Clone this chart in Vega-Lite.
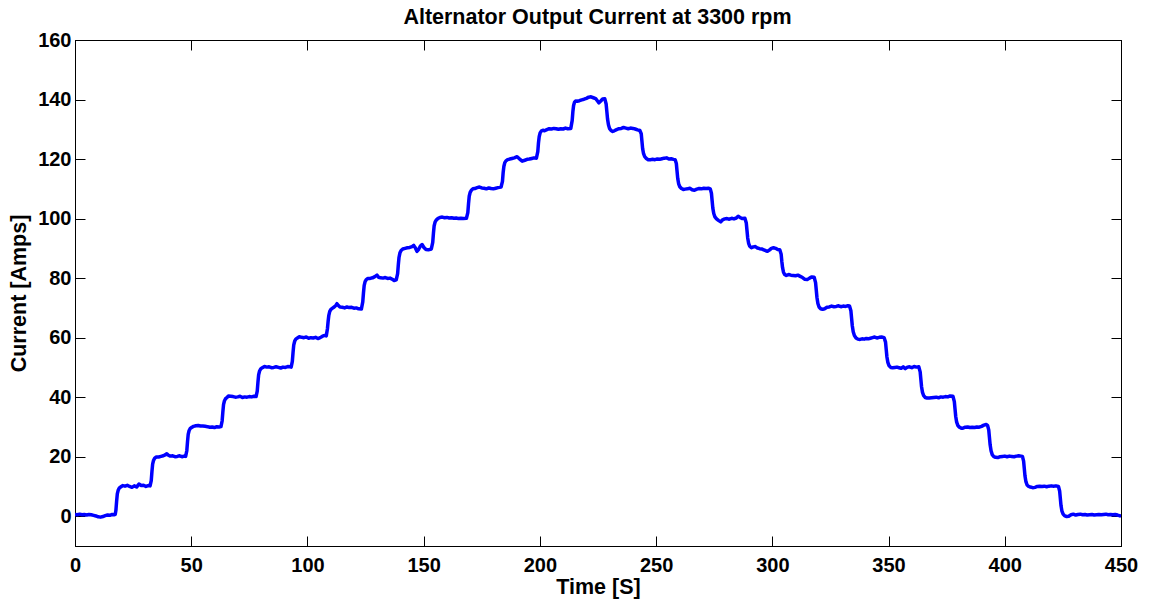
{
"$schema": "https://vega.github.io/schema/vega-lite/v6.json",
"autosize": {"type": "none"},
"width": 1046,
"height": 506,
"padding": {"left": 75, "top": 40, "right": 31, "bottom": 54},
"background": "white",
"config": {"view": {"stroke": "black", "strokeWidth": 1}, "font": "Liberation Sans"},
"data": {"values": [
{"t":0,"i":0.6},{"t":1,"i":0.5},{"t":2,"i":0.7},{"t":3,"i":0.5},{"t":4,"i":0.6},{"t":5,"i":0.4},{"t":6,"i":0.6},{"t":7,"i":0.5},{"t":8,"i":0.3},{"t":9,"i":0.1},{"t":10,"i":-0.2},{"t":11,"i":-0.3},{"t":12,"i":-0.1},{"t":13,"i":0.2},{"t":14,"i":0.4},{"t":15,"i":0.3},{"t":16,"i":0.6},{"t":17,"i":0.5},{"t":17.3,"i":0.6},
{"t":17.6,"i":2.0},{"t":17.9,"i":5.0},{"t":18.2,"i":7.5},{"t":18.6,"i":8.8},{"t":19.1,"i":9.5},{"t":19.8,"i":9.9},
{"t":20.5,"i":10.3},{"t":21.5,"i":10.1},{"t":22.5,"i":10.4},{"t":23.5,"i":10.0},{"t":24.5,"i":9.7},{"t":25.5,"i":10.2},{"t":26.5,"i":9.8},{"t":27.5,"i":10.8},{"t":28.5,"i":10.3},{"t":29.5,"i":10.4},{"t":30.5,"i":10.0},{"t":31.5,"i":10.3},{"t":32.3,"i":10.2},
{"t":32.8,"i":12},{"t":33.1,"i":15},{"t":33.4,"i":17.5},{"t":33.8,"i":18.8},{"t":34.3,"i":19.5},{"t":35,"i":19.9},
{"t":36,"i":19.9},{"t":37,"i":20.1},{"t":38,"i":20.3},{"t":39,"i":20.7},{"t":39.5,"i":21.0},{"t":40.2,"i":20.5},{"t":41,"i":20.2},{"t":42,"i":20.3},{"t":43,"i":20.0},{"t":44,"i":20.1},{"t":45,"i":20.3},{"t":46,"i":20.0},{"t":47,"i":20.2},{"t":47.6,"i":20.1},
{"t":48.1,"i":22},{"t":48.4,"i":25},{"t":48.7,"i":27.5},{"t":49.1,"i":28.8},{"t":49.6,"i":29.5},{"t":50.3,"i":29.9},
{"t":51,"i":30.2},{"t":52,"i":30.4},{"t":53,"i":30.5},{"t":54,"i":30.3},{"t":55,"i":30.3},{"t":56,"i":30.2},{"t":57,"i":30.1},{"t":58,"i":29.9},{"t":59,"i":30.0},{"t":60,"i":29.8},{"t":61,"i":30.1},{"t":62,"i":30.0},{"t":62.8,"i":30.1},
{"t":63.3,"i":32},{"t":63.6,"i":35},{"t":63.9,"i":37.5},{"t":64.3,"i":38.8},{"t":64.8,"i":39.5},{"t":65.5,"i":40},
{"t":66,"i":40.4},{"t":67,"i":40.3},{"t":68,"i":40.2},{"t":69,"i":40.0},{"t":70,"i":40.1},{"t":71,"i":40.3},{"t":72,"i":39.9},{"t":73,"i":40.1},{"t":74,"i":40.0},{"t":75,"i":40.2},{"t":76,"i":40.1},{"t":77,"i":40.3},{"t":77.9,"i":40.2},
{"t":78.4,"i":42},{"t":78.7,"i":45},{"t":79,"i":47.5},{"t":79.4,"i":48.8},{"t":79.9,"i":49.5},{"t":80.6,"i":49.9},
{"t":81.5,"i":50.3},{"t":82.5,"i":50.1},{"t":83.5,"i":50.2},{"t":84.5,"i":49.9},{"t":85.5,"i":50.0},{"t":86.5,"i":50.2},{"t":87.5,"i":50.0},{"t":88.5,"i":49.8},{"t":89.5,"i":50.1},{"t":90.5,"i":50.0},{"t":91.5,"i":50.3},{"t":92.5,"i":50.2},{"t":93,"i":50.1},
{"t":93.5,"i":52},{"t":93.8,"i":55},{"t":94.1,"i":57.5},{"t":94.5,"i":58.8},{"t":95,"i":59.5},{"t":95.7,"i":59.9},
{"t":96.5,"i":60.3},{"t":97.5,"i":60.1},{"t":98.5,"i":60.0},{"t":99.5,"i":60.2},{"t":100.5,"i":59.8},{"t":101.5,"i":60.0},{"t":102.5,"i":59.9},{"t":103.5,"i":60.1},{"t":104.5,"i":59.7},{"t":105.5,"i":60.0},{"t":106.5,"i":60.5},{"t":107.5,"i":60.8},{"t":108.1,"i":60.6},
{"t":108.6,"i":63},{"t":108.9,"i":65.5},{"t":109.2,"i":67.5},{"t":109.6,"i":68.8},{"t":110.1,"i":69.5},{"t":110.8,"i":69.9},
{"t":111.5,"i":70.3},{"t":112.2,"i":70.8},{"t":112.7,"i":71.4},{"t":113.3,"i":70.8},{"t":114,"i":70.3},{"t":115,"i":70.2},{"t":116,"i":70.0},{"t":117,"i":70.3},{"t":118,"i":70.1},{"t":119,"i":70.2},{"t":120,"i":69.9},{"t":121,"i":70.0},{"t":122,"i":69.7},{"t":123.2,"i":69.6},
{"t":123.8,"i":72},{"t":124.1,"i":75},{"t":124.4,"i":77.5},{"t":124.8,"i":78.8},{"t":125.3,"i":79.5},{"t":126,"i":79.9},
{"t":127,"i":79.9},{"t":128,"i":80.1},{"t":129,"i":80.5},{"t":129.9,"i":81.0},{"t":130.6,"i":80.3},{"t":131.5,"i":80.1},{"t":132.5,"i":80.0},{"t":133.5,"i":80.2},{"t":134.5,"i":79.9},{"t":135.5,"i":80.0},{"t":136.5,"i":79.6},{"t":137.3,"i":79.2},{"t":138.2,"i":79.4},
{"t":138.8,"i":81.5},{"t":139.1,"i":84.5},{"t":139.4,"i":87},{"t":139.8,"i":88.5},{"t":140.3,"i":89.3},{"t":141,"i":89.8},
{"t":142,"i":90.0},{"t":143,"i":90.2},{"t":144,"i":90.3},{"t":145,"i":90.6},{"t":145.7,"i":91.0},{"t":146.4,"i":90.2},{"t":147.1,"i":89.0},{"t":147.8,"i":89.6},{"t":148.6,"i":90.8},{"t":149.3,"i":91.3},{"t":150.1,"i":90.3},{"t":151,"i":89.6},{"t":152,"i":89.5},{"t":153.3,"i":89.8},
{"t":153.9,"i":92},{"t":154.2,"i":95},{"t":154.5,"i":97.5},{"t":154.9,"i":98.8},{"t":155.4,"i":99.5},{"t":156.1,"i":100.0},
{"t":157,"i":100.4},{"t":158,"i":100.5},{"t":159,"i":100.3},{"t":160,"i":100.4},{"t":161,"i":100.2},{"t":162,"i":100.3},{"t":163,"i":100.1},{"t":164,"i":100.2},{"t":165,"i":100.0},{"t":166,"i":100.1},{"t":167,"i":100.0},{"t":168.4,"i":100.1},
{"t":169,"i":102},{"t":169.3,"i":105},{"t":169.6,"i":107.5},{"t":170,"i":108.8},{"t":170.5,"i":109.5},{"t":171.2,"i":110},
{"t":172,"i":110.1},{"t":173,"i":110.4},{"t":174,"i":110.6},{"t":175,"i":110.3},{"t":176,"i":110.2},{"t":177,"i":110.0},{"t":178,"i":110.3},{"t":179,"i":110.1},{"t":180,"i":110.0},{"t":181,"i":110.2},{"t":182,"i":110.4},{"t":183.3,"i":110.6},
{"t":183.9,"i":112.5},{"t":184.2,"i":115.5},{"t":184.5,"i":117.5},{"t":184.9,"i":118.8},{"t":185.4,"i":119.4},{"t":186.1,"i":119.8},
{"t":187,"i":120.0},{"t":188,"i":120.2},{"t":189,"i":120.4},{"t":190.2,"i":120.8},{"t":191.3,"i":120.0},{"t":192.4,"i":119.3},{"t":193.5,"i":119.6},{"t":194.5,"i":119.9},{"t":195.5,"i":120.0},{"t":196.5,"i":120.2},{"t":197.5,"i":120.4},{"t":198.5,"i":120.3},
{"t":199.1,"i":122.5},{"t":199.4,"i":125.5},{"t":199.7,"i":127.5},{"t":200.1,"i":128.8},{"t":200.6,"i":129.4},{"t":201.3,"i":129.7},
{"t":202,"i":129.5},{"t":203,"i":129.9},{"t":204,"i":130.2},{"t":205,"i":130.1},{"t":206,"i":130.3},{"t":207,"i":130.2},{"t":208,"i":130.0},{"t":209,"i":130.2},{"t":210,"i":130.1},{"t":211,"i":130.4},{"t":212,"i":130.2},{"t":213.3,"i":130.3},
{"t":213.9,"i":133},{"t":214.2,"i":136},{"t":214.5,"i":138},{"t":214.9,"i":139.1},{"t":215.4,"i":139.5},
{"t":216,"i":139.4},{"t":217,"i":139.6},{"t":218,"i":139.9},{"t":219,"i":140.1},{"t":220,"i":140.4},{"t":221,"i":140.8},{"t":222,"i":140.9},{"t":223,"i":140.6},{"t":224,"i":140.3},{"t":224.7,"i":139.6},{"t":225.4,"i":138.9},{"t":226.2,"i":139.5},{"t":227,"i":140.2},{"t":227.9,"i":140.3},
{"t":228.5,"i":138.5},{"t":228.8,"i":136},{"t":229.1,"i":133.5},{"t":229.5,"i":131.5},{"t":230,"i":130.2},{"t":230.6,"i":129.6},{"t":231.3,"i":129.3},
{"t":232,"i":129.5},{"t":233,"i":129.9},{"t":234,"i":130.2},{"t":235,"i":130.3},{"t":236,"i":130.6},{"t":237,"i":130.4},{"t":238,"i":130.2},{"t":239,"i":130.4},{"t":240,"i":130.3},{"t":241,"i":130.1},{"t":242,"i":129.8},{"t":243,"i":129.6},
{"t":243.6,"i":128.5},{"t":243.9,"i":126},{"t":244.2,"i":123.5},{"t":244.6,"i":121.8},{"t":245.1,"i":120.8},{"t":245.8,"i":120.2},{"t":246.6,"i":119.8},
{"t":247.5,"i":119.8},{"t":248.5,"i":119.9},{"t":249.5,"i":119.8},{"t":250.5,"i":120.0},{"t":251.5,"i":119.9},{"t":252.5,"i":120.1},{"t":253.5,"i":120.3},{"t":254.5,"i":120.4},{"t":255.5,"i":120.0},{"t":256.5,"i":120.1},{"t":257.5,"i":119.9},{"t":258.2,"i":119.8},
{"t":258.7,"i":118.5},{"t":259,"i":116},{"t":259.3,"i":113.5},{"t":259.7,"i":111.7},{"t":260.2,"i":110.7},{"t":260.9,"i":110.1},{"t":261.7,"i":109.8},
{"t":262.5,"i":109.9},{"t":263.5,"i":110.0},{"t":264.5,"i":110.2},{"t":265.5,"i":109.7},{"t":266.5,"i":109.5},{"t":267.5,"i":109.9},{"t":268.5,"i":110.1},{"t":269.5,"i":110.0},{"t":270.5,"i":110.2},{"t":271.5,"i":110.1},{"t":272.5,"i":110.2},{"t":273.3,"i":110.0},
{"t":273.8,"i":108.5},{"t":274.1,"i":106},{"t":274.4,"i":103.5},{"t":274.8,"i":101.7},{"t":275.3,"i":100.6},{"t":276,"i":99.9},{"t":276.8,"i":99.4},
{"t":277.8,"i":98.9},{"t":278.6,"i":99.6},{"t":279.5,"i":99.9},{"t":280.5,"i":100.0},{"t":281.5,"i":99.8},{"t":282.5,"i":100.1},{"t":283.5,"i":99.9},{"t":284.5,"i":100.2},{"t":285.3,"i":100.8},{"t":286.1,"i":100.4},{"t":287,"i":100.0},{"t":288.2,"i":100.1},
{"t":288.8,"i":98.5},{"t":289.1,"i":96},{"t":289.4,"i":93.5},{"t":289.8,"i":91.7},{"t":290.3,"i":90.7},{"t":291,"i":90.2},
{"t":291.8,"i":90.5},{"t":292.7,"i":90.6},{"t":293.6,"i":90.1},{"t":294.5,"i":89.9},{"t":295.4,"i":89.8},{"t":296.3,"i":89.5},{"t":297.2,"i":89.2},{"t":297.9,"i":89.0},{"t":298.7,"i":89.4},{"t":299.6,"i":90.0},{"t":300.5,"i":90.2},{"t":301.4,"i":90.0},{"t":302.3,"i":89.6},{"t":303.2,"i":89.5},
{"t":303.8,"i":88},{"t":304.1,"i":85.5},{"t":304.4,"i":83.5},{"t":304.8,"i":82},{"t":305.3,"i":81.2},
{"t":306,"i":80.9},{"t":307,"i":81.2},{"t":308,"i":81.0},{"t":309,"i":80.9},{"t":310,"i":80.8},{"t":311,"i":81.0},{"t":312,"i":80.6},{"t":313,"i":80.2},{"t":314,"i":79.6},{"t":315,"i":79.5},{"t":316,"i":80.0},{"t":317,"i":80.4},{"t":318,"i":80.3},
{"t":318.6,"i":78.5},{"t":318.9,"i":76},{"t":319.2,"i":73.5},{"t":319.6,"i":71.5},{"t":320.1,"i":70.3},{"t":320.8,"i":69.7},{"t":321.6,"i":69.5},
{"t":322.5,"i":69.7},{"t":323.5,"i":70.2},{"t":324.5,"i":70.3},{"t":325.5,"i":70.6},{"t":326.5,"i":70.4},{"t":327.5,"i":70.5},{"t":328.5,"i":70.7},{"t":329.5,"i":70.4},{"t":330.5,"i":70.6},{"t":331.5,"i":70.5},{"t":332.5,"i":70.7},{"t":333.2,"i":70.6},
{"t":333.8,"i":69},{"t":334.1,"i":66.5},{"t":334.4,"i":64},{"t":334.8,"i":62},{"t":335.3,"i":60.7},{"t":336,"i":59.9},{"t":336.8,"i":59.5},
{"t":337.7,"i":59.4},{"t":338.6,"i":59.6},{"t":339.5,"i":59.5},{"t":340.4,"i":59.7},{"t":341.3,"i":59.6},{"t":342.2,"i":59.8},{"t":343.1,"i":60.0},{"t":344,"i":60.2},{"t":345,"i":59.9},{"t":346,"i":60.1},{"t":347,"i":60.2},{"t":348.1,"i":60.0},
{"t":348.7,"i":58.5},{"t":349,"i":56},{"t":349.3,"i":53.5},{"t":349.7,"i":51.7},{"t":350.2,"i":50.6},{"t":350.9,"i":50.0},
{"t":351.8,"i":49.9},{"t":352.7,"i":50.0},{"t":353.6,"i":50.1},{"t":354.5,"i":49.9},{"t":355.4,"i":49.7},{"t":356.3,"i":50.2},{"t":357.2,"i":49.6},{"t":358.1,"i":50.1},{"t":359,"i":50.2},{"t":360,"i":49.9},{"t":361,"i":50.3},{"t":362,"i":50.1},{"t":363,"i":50.2},
{"t":363.6,"i":48.5},{"t":363.9,"i":46},{"t":364.2,"i":43.5},{"t":364.6,"i":41.6},{"t":365.1,"i":40.5},{"t":365.8,"i":39.9},{"t":366.6,"i":39.7},
{"t":367.5,"i":39.7},{"t":368.5,"i":39.8},{"t":369.5,"i":39.9},{"t":370.5,"i":40.0},{"t":371.5,"i":39.8},{"t":372.5,"i":40.1},{"t":373.5,"i":40.0},{"t":374.5,"i":40.2},{"t":375.5,"i":40.1},{"t":376.5,"i":40.4},{"t":377.7,"i":40.3},
{"t":378.3,"i":38.5},{"t":378.6,"i":36},{"t":378.9,"i":33.5},{"t":379.3,"i":31.6},{"t":379.8,"i":30.5},{"t":380.5,"i":29.9},{"t":381.3,"i":29.6},
{"t":382,"i":29.6},{"t":383,"i":29.9},{"t":384,"i":30.0},{"t":385,"i":29.8},{"t":386,"i":29.9},{"t":387,"i":29.8},{"t":388,"i":30.0},{"t":389,"i":29.9},{"t":390,"i":30.2},{"t":391,"i":30.6},{"t":392,"i":30.8},{"t":392.6,"i":30.5},
{"t":393.1,"i":29},{"t":393.4,"i":26.5},{"t":393.7,"i":24},{"t":394.1,"i":22},{"t":394.6,"i":20.7},{"t":395.3,"i":20.0},{"t":396,"i":19.8},
{"t":397,"i":19.7},{"t":398,"i":20.0},{"t":399,"i":20.1},{"t":400,"i":20.2},{"t":401,"i":20.0},{"t":402,"i":20.2},{"t":403,"i":20.1},{"t":404,"i":20.0},{"t":405,"i":20.2},{"t":406,"i":20.3},{"t":407,"i":20.2},{"t":407.6,"i":20.1},
{"t":408.1,"i":18.5},{"t":408.4,"i":16},{"t":408.7,"i":13.5},{"t":409.1,"i":11.6},{"t":409.6,"i":10.5},{"t":410.3,"i":10.0},
{"t":411,"i":9.8},{"t":412,"i":9.6},{"t":413,"i":9.7},{"t":414,"i":10.0},{"t":415,"i":10.1},{"t":416,"i":10.0},{"t":417,"i":10.1},{"t":418,"i":9.9},{"t":419,"i":10.1},{"t":420,"i":10.2},{"t":421,"i":10.1},{"t":422,"i":10.2},{"t":423.1,"i":10.0},
{"t":423.6,"i":8.5},{"t":423.9,"i":6},{"t":424.2,"i":3.5},{"t":424.6,"i":1.7},{"t":425.1,"i":0.7},{"t":425.8,"i":0.1},{"t":426.6,"i":-0.1},
{"t":427.5,"i":0.0},{"t":428.5,"i":0.5},{"t":429.5,"i":0.7},{"t":430.5,"i":0.4},{"t":431.5,"i":0.6},{"t":432.5,"i":0.7},{"t":433.5,"i":0.5},{"t":434.5,"i":0.6},{"t":435.5,"i":0.4},{"t":436.5,"i":0.5},{"t":437.5,"i":0.6},{"t":438.5,"i":0.4},{"t":439.5,"i":0.5},{"t":440.5,"i":0.6},{"t":441.5,"i":0.5},{"t":442.5,"i":0.6},{"t":443.5,"i":0.7},{"t":444.5,"i":0.5},{"t":445.5,"i":0.6},{"t":446.5,"i":0.5},{"t":447.5,"i":0.6},{"t":448.5,"i":0.4},{"t":449.3,"i":0.2},{"t":450,"i":0.0}
]},
"layer": [
{"mark": {"type": "line", "color": "#0000ff", "strokeWidth": 3.5, "strokeJoin": "round", "clip": true},
 "encoding": {
  "x": {"field": "t", "type": "quantitative", "scale": {"domain": [0, 450], "nice": false, "zero": false},
        "axis": {"orient": "bottom", "values": [0,50,100,150,200,250,300,350,400,450], "title": "Time [S]", "titleFont": "Liberation Sans", "titleFontSize": 21.5, "titleFontWeight": "bold", "titleColor": "black", "titleX": 523, "titleY": 47, "titleBaseline": "alphabetic", "titleAlign": "center", "labelFont": "Liberation Sans", "labelFontSize": 20, "labelFontWeight": "bold", "labelColor": "black", "labelPadding": 19, "labelFlush": false, "tickSize": -10, "tickColor": "black", "domainColor": "black", "grid": false}},
  "y": {"field": "i", "type": "quantitative", "scale": {"domain": [-10, 160], "nice": false, "zero": false},
        "axis": {"orient": "left", "values": [0,20,40,60,80,100,120,140,160], "title": "Current [Amps]", "titleFont": "Liberation Sans", "titleFontSize": 21.5, "titleFontWeight": "bold", "titleColor": "black", "titleX": -50, "titleY": 253, "titleAngle": 270, "titleBaseline": "alphabetic", "titleAlign": "center", "labelFont": "Liberation Sans", "labelFontSize": 20, "labelFontWeight": "bold", "labelColor": "black", "labelPadding": 14, "labelFlush": false, "tickSize": -10, "tickColor": "black", "domainColor": "black", "grid": false}}
 }},
{"mark": {"type": "line", "opacity": 0},
 "encoding": {
  "x": {"field": "t", "type": "quantitative", "scale": {"domain": [0, 450], "nice": false, "zero": false},
        "axis": {"orient": "top", "values": [0,50,100,150,200,250,300,350,400,450], "title": "Alternator Output Current at 3300 rpm", "titleFont": "Liberation Sans", "titleFontSize": 21.5, "titleFontWeight": "bold", "titleColor": "black", "titleX": 522, "titleY": -16.7, "titleBaseline": "alphabetic", "titleAlign": "center", "labels": false, "tickSize": -10, "tickColor": "black", "domainColor": "black", "grid": false}},
  "y": {"field": "i", "type": "quantitative", "scale": {"domain": [-10, 160], "nice": false, "zero": false},
        "axis": {"orient": "right", "values": [0,20,40,60,80,100,120,140,160], "title": null, "labels": false, "tickSize": -10, "tickColor": "black", "domainColor": "black", "grid": false}}
 }}
],
"resolve": {"axis": {"x": "independent", "y": "independent"}}
}
